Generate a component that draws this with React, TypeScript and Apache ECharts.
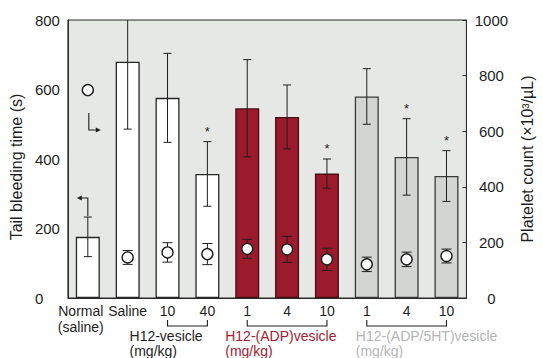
import React, { useEffect, useRef } from "react";
import * as echarts from "echarts";

// ---------- data ----------
const categories = ["Normal\n(saline)", "Saline", "10", "40", "1", "4", "10", "1", "4", "10"];
const bleedingTime = [176, 680, 576, 357, 546, 521, 358, 580, 406, 351];
const bleedingErr = [57, 194, 128, 93, 140, 92, 42, 80, 110, 73];
const significant = [false, false, false, true, false, false, true, false, true, true];
const plateletCount = [748, 146, 164, 158, 177, 175, 139, 121, 139, 151];
const plateletErr = [0, 25, 35, 38, 34, 47, 40, 26, 26, 25];
const barGroup = ["control", "control", "vesicle", "vesicle", "adp", "adp", "adp", "adp5ht", "adp5ht", "adp5ht"];
const leftTicks = [0, 200, 400, 600, 800];
const rightTicks = [0, 200, 400, 600, 800, 1000];
const groupLabels = ["H12-vesicle\n(mg/kg)", "H12-(ADP)vesicle\n(mg/kg)", "H12-(ADP/5HT)vesicle\n(mg/kg)"];
const groupFirst = [2, 4, 7];
const groupLast = [3, 6, 9];

// ---------- styles ----------
const FONT = "'Liberation Sans', Arial, sans-serif";
const INK = "#1e1e1e";
const fillFor: Record<string, string> = {
  control: "#ffffff",
  vesicle: "#ffffff",
  adp: "#9b1b2d",
  adp5ht: "#d3d5d3",
};
const borderFor: Record<string, string> = {
  control: "#262626",
  vesicle: "#262626",
  adp: "#4a0c14",
  adp5ht: "#3a3a3a",
};
const groupTextColors = ["#1e1e1e", "#a3202f", "#b5b5b5"];
const groupLabelShift = [38, 22, 11];

export default function App() {
  const ref = useRef<HTMLDivElement>(null);

  useEffect(() => {
    if (!ref.current) return;
    const chart = echarts.init(ref.current, null, { renderer: "svg" });

    const errRender = (capHalf: number, withStar: boolean) => (params: any, api: any) => {
      const i = api.value(0);
      const lo = api.value(1);
      const hi = api.value(2);
      const star = api.value(3);
      const pLo = api.coord([i, lo]);
      const pHi = api.coord([i, hi]);
      const st = { stroke: INK, lineWidth: 1 };
      const children: any[] = [];
      if (hi > lo) {
        children.push(
          { type: "line", shape: { x1: pLo[0], y1: pLo[1], x2: pHi[0], y2: pHi[1] }, style: st },
          { type: "line", shape: { x1: pLo[0] - capHalf, y1: pLo[1], x2: pLo[0] + capHalf, y2: pLo[1] }, style: st },
          { type: "line", shape: { x1: pHi[0] - capHalf, y1: pHi[1], x2: pHi[0] + capHalf, y2: pHi[1] }, style: st }
        );
      }
      if (withStar && star) {
        children.push({
          type: "text",
          style: {
            text: "*",
            x: pHi[0],
            y: pHi[1] - 4,
            align: "center",
            verticalAlign: "bottom",
            fill: INK,
            font: `13px ${FONT}`,
          },
        });
      }
      return { type: "group", children };
    };

    const option: any = {
      animation: false,
      grid: {
        left: 65,
        right: 66,
        top: 20,
        bottom: 60,
        show: true,
        backgroundColor: "#e5e8e4",
        borderColor: "#2a2a2a",
        borderWidth: 1,
      },
      xAxis: {
        type: "category",
        data: categories.map((c, i) =>
          i === 0 ? { value: c, textStyle: { padding: [0, 14, 0, 0], align: "center" } } : c
        ),
        axisLine: { show: true, lineStyle: { color: "#2a2a2a", width: 1 } },
        axisTick: { show: false },
        axisLabel: {
          interval: 0,
          margin: 5,
          color: INK,
          fontFamily: FONT,
          fontSize: 14,
          lineHeight: 16,
        },
      },
      yAxis: [
        {
          type: "value",
          min: 0,
          max: leftTicks[leftTicks.length - 1],
          interval: leftTicks[1] - leftTicks[0],
          name: "Tail bleeding time (s)",
          nameLocation: "middle",
          nameGap: 39,
          nameRotate: 90,
          nameTextStyle: { color: INK, fontFamily: FONT, fontSize: 16, padding: [0, 16, 0, 0] },
          axisLine: { show: true, lineStyle: { color: "#2a2a2a", width: 1 } },
          axisTick: { show: false },
          splitLine: { show: false },
          axisLabel: {
            color: INK,
            fontFamily: FONT,
            fontSize: 15,
            align: "left",
            margin: 33,
            formatter: (v: number) => String(v),
          },
        },
        {
          type: "value",
          position: "right",
          min: 0,
          max: rightTicks[rightTicks.length - 1],
          interval: rightTicks[1] - rightTicks[0],
          name: "Platelet count (×10³/µL)",
          nameLocation: "middle",
          nameGap: 45,
          nameRotate: 90,
          nameTextStyle: { color: INK, fontFamily: FONT, fontSize: 16 },
          axisLine: { show: true, lineStyle: { color: "#2a2a2a", width: 1 } },
          axisTick: { show: true, inside: true, length: 4, lineStyle: { color: "#2a2a2a" } },
          splitLine: { show: false },
          axisLabel: {
            color: INK,
            fontFamily: FONT,
            fontSize: 15,
            align: "center",
            margin: 25,
            formatter: (v: number) => String(v),
          },
        },
      ],
      series: [
        {
          type: "bar",
          yAxisIndex: 0,
          barWidth: 24,
          z: 2,
          data: bleedingTime.map((v, i) => ({
            value: v,
            itemStyle: { color: fillFor[barGroup[i]], borderColor: borderFor[barGroup[i]], borderWidth: 1.3 },
          })),
        },
        {
          type: "custom",
          yAxisIndex: 0,
          z: 3,
          clip: true,
          renderItem: errRender(4, true),
          encode: { x: 0, y: [1, 2] },
          data: bleedingTime.map((v, i) => [i, v - bleedingErr[i], v + bleedingErr[i], significant[i] ? 1 : 0]),
        },
        {
          type: "custom",
          yAxisIndex: 1,
          z: 4,
          clip: true,
          renderItem: errRender(5, false),
          encode: { x: 0, y: [1, 2] },
          data: plateletCount.map((v, i) => [i, v - plateletErr[i], v + plateletErr[i], 0]),
        },
        {
          type: "scatter",
          yAxisIndex: 1,
          z: 5,
          symbol: "circle",
          symbolSize: 11,
          itemStyle: { color: "#ffffff", borderColor: "#1e1e1e", borderWidth: 1.4, opacity: 1 },
          data: plateletCount.map((v, i) => [i, v]),
        },
      ],
    };

    chart.setOption(option);

    // annotation graphics positioned from the chart's own scales
    const pL = (i: number, v: number) => chart.convertToPixel({ seriesIndex: 0 }, [i, v]) as number[];
    const pR = (i: number, v: number) => chart.convertToPixel({ seriesIndex: 3 }, [i, v]) as number[];
    const lineStyle = { stroke: INK, lineWidth: 1.1, fill: null };
    const elems: any[] = [];

    // brackets and group labels
    groupLabels.forEach((label, g) => {
      const a = pL(groupFirst[g], 0);
      const b = pL(groupLast[g], 0);
      const yTop = a[1] + 22;
      const yBot = a[1] + 28;
      elems.push({
        type: "polyline",
        shape: { points: [[a[0], yTop], [a[0], yBot], [b[0], yBot], [b[0], yTop]] },
        style: lineStyle,
        silent: true,
      });
      elems.push({
        type: "text",
        style: {
          text: label,
          x: a[0] - groupLabelShift[g],
          y: a[1] + 30,
          fill: groupTextColors[g],
          font: `14px ${FONT}`,
          lineHeight: 15,
          align: "left",
          verticalAlign: "top",
        },
        silent: true,
      });
    });

    // axis-indicating arrows near the Normal bar
    const c = pR(0, plateletCount[0]);
    const rx = c[0] + 1;
    const ry1 = c[1] + 23;
    const ry2 = c[1] + 40;
    elems.push({
      type: "polyline",
      shape: { points: [[rx, ry1], [rx, ry2], [rx + 9, ry2]] },
      style: lineStyle,
      silent: true,
    });
    elems.push({
      type: "polygon",
      shape: { points: [[rx + 12, ry2], [rx + 7, ry2 - 2.5], [rx + 7, ry2 + 2.5]] },
      style: { fill: INK },
      silent: true,
    });
    const e = pL(0, bleedingTime[0] + bleedingErr[0]);
    const lx = e[0];
    const ly1 = e[1] - 1;
    const ly2 = e[1] - 19;
    elems.push({
      type: "polyline",
      shape: { points: [[lx, ly1], [lx, ly2], [lx - 8, ly2]] },
      style: lineStyle,
      silent: true,
    });
    elems.push({
      type: "polygon",
      shape: { points: [[lx - 11, ly2], [lx - 6, ly2 - 2.5], [lx - 6, ly2 + 2.5]] },
      style: { fill: INK },
      silent: true,
    });

    chart.setOption({ graphic: elems });

    return () => chart.dispose();
  }, []);

  return (
    <div
      ref={ref}
      style={{ position: "fixed", left: 0, top: 0, width: 543, height: 358, background: "#ffffff" }}
    />
  );
}
